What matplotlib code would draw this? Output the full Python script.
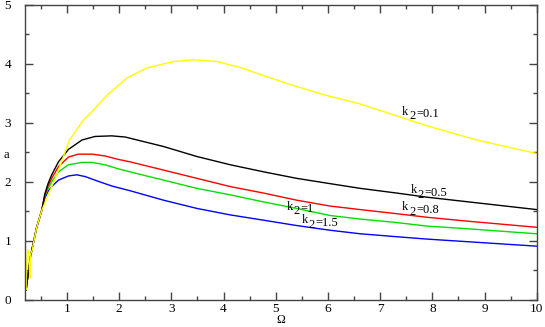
import matplotlib
matplotlib.use("Agg")
import matplotlib.pyplot as plt
from matplotlib.ticker import MultipleLocator

plt.rcParams['font.family'] = ['Liberation Serif', 'DejaVu Serif']

# curves: (Omega, a)
# rising branch shared by the four lower curves
omega_common = [0.22, 0.26, 0.3, 0.36, 0.42, 0.52]
a_common = [0.17, 0.45, 0.72, 0.97, 1.22, 1.52]

omega_y = [0.2, 0.22, 0.23, 0.25, 0.27, 0.29, 0.30, 0.31, 0.34, 0.36, 0.42,
           0.52, 0.58, 0.84, 1.05, 1.32, 1.45, 1.77, 2.15, 2.53, 3.04, 3.42,
           3.87, 4.32, 4.64, 5.28, 5.91, 6.62, 7.9, 8.85, 10.0]
a_y = [0.2, 0.17, 0.6, 0.85, 0.8, 0.4, 0.37, 0.79, 0.85, 0.96, 1.22,
       1.52, 1.64, 2.2, 2.71, 3.05, 3.16, 3.47, 3.76, 3.93, 4.04, 4.07,
       4.04, 3.94, 3.84, 3.65, 3.48, 3.32, 2.95, 2.71, 2.48]

omega_k = [0.58, 0.64, 0.71, 0.84, 1.03, 1.29, 1.54, 1.86, 2.12, 2.21, 2.85,
           3.49, 4.13, 4.77, 5.40, 6.04, 6.62, 7.32, 7.9, 8.60, 10.0]
a_black = [1.80, 1.97, 2.12, 2.34, 2.55, 2.71, 2.77, 2.78, 2.76, 2.74, 2.60,
           2.43, 2.29, 2.17, 2.06, 1.97, 1.89, 1.81, 1.74, 1.67, 1.53]

omega_r = [0.58, 0.64, 0.71, 0.84, 1.03, 1.22, 1.48, 1.73, 1.99, 2.21, 2.85,
           3.49, 4.13, 4.77, 5.40, 6.04, 6.62, 7.32, 7.9, 8.60, 10.0]
a_red = [1.78, 1.93, 2.06, 2.26, 2.42, 2.47, 2.47, 2.44, 2.38, 2.34, 2.20,
         2.06, 1.92, 1.81, 1.69, 1.59, 1.53, 1.46, 1.40, 1.34, 1.23]

omega_g = [0.58, 0.64, 0.71, 0.84, 1.03, 1.29, 1.48, 1.73, 1.99, 2.21, 2.85,
           3.49, 4.13, 4.77, 5.40, 6.04, 6.62, 7.32, 7.9, 8.60, 10.0]
a_green = [1.76, 1.89, 2.0, 2.17, 2.29, 2.33, 2.33, 2.29, 2.22, 2.17, 2.03,
           1.89, 1.78, 1.66, 1.55, 1.43, 1.37, 1.31, 1.25, 1.21, 1.12]

omega_b = [0.58, 0.64, 0.71, 0.84, 1.03, 1.19, 1.35, 1.6, 1.86, 2.21, 2.85,
           3.49, 4.13, 4.77, 5.40, 6.04, 6.62, 7.32, 7.9, 8.60, 10.0]
a_blue = [1.73, 1.84, 1.92, 2.03, 2.10, 2.12, 2.09, 2.01, 1.93, 1.85, 1.69,
          1.55, 1.44, 1.35, 1.26, 1.18, 1.12, 1.07, 1.03, 0.99, 0.91]

label_values = ["0.1", "0.5", "0.8", "1", "1.5"]
label_x = [7.42, 7.58, 7.42, 5.21, 5.50]
label_y = [3.14, 1.81, 1.52, 1.53, 1.30]


def join(xs, ys):
    # shared rising branch followed by the curve itself
    px = [x for x in omega_common if x < xs[0]] + list(xs)
    py = [y for x, y in zip(omega_common, a_common) if x < xs[0]] + list(ys)
    return px, py


fig = plt.figure(figsize=(5.45, 3.27), dpi=100)
ax = fig.add_axes([0.046, 0.083, 0.939, 0.902])

for xs, ys, c in [(omega_b, a_blue, '#0000ff'), (omega_g, a_green, '#00e000'),
                  (omega_r, a_red, '#ff0000'), (omega_k, a_black, '#000000')]:
    px, py = join(xs, ys)
    ax.plot(px, py, color=c, lw=1.0)
ax.plot(omega_y, a_y, color='#ffff00', lw=1.0)

# k with a lowered, full-size 2 as in the original
for v, x, y in zip(label_values, label_x, label_y):
    ax.annotate('k', (x, y), fontsize=9, ha='left', va='baseline')
    ax.annotate('2', (x, y), xytext=(5, -3.5), textcoords='offset points',
                fontsize=9, ha='left', va='baseline')
    ax.annotate('=' + v, (x, y), xytext=(10, -2), textcoords='offset points',
                fontsize=9, ha='left', va='baseline')

ax.set_xlim(0.2, 10)
ax.set_ylim(0, 5)
ax.xaxis.set_major_locator(MultipleLocator(1))
ax.xaxis.set_minor_locator(MultipleLocator(0.5))
ax.yaxis.set_major_locator(MultipleLocator(1))
ax.yaxis.set_minor_locator(MultipleLocator(0.5))
ax.tick_params(which='both', direction='in', top=True, right=True,
               color='#444444', labelsize=9.5)
ax.tick_params(which='major', length=6, width=1)
ax.tick_params(which='minor', length=3, width=1)
ax.tick_params(axis='y', pad=10)
ax.tick_params(axis='x', pad=2)
for s in ax.spines.values():
    s.set_color('#444444')
    s.set_linewidth(1)

fig.text(0.516, 0.002, 'Ω', fontsize=8.5, ha='center', va='bottom')
fig.text(0.006, 0.526, 'a', fontsize=9, ha='left', va='center')

fig.savefig('out.png', dpi=100)
